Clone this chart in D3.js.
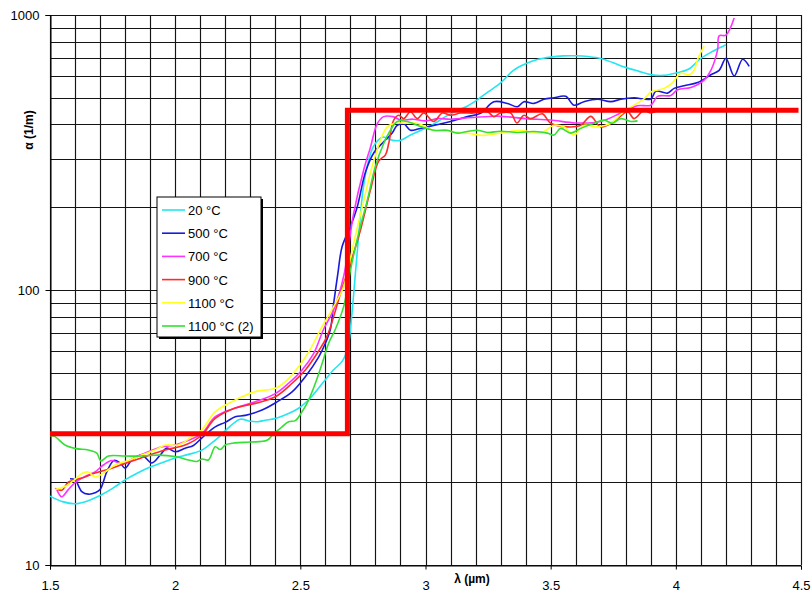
<!DOCTYPE html>
<html>
<head>
<meta charset="utf-8">
<script src="https://cdn.jsdelivr.net/npm/d3@7/dist/d3.min.js"></script>
<style>
  html, body { margin: 0; padding: 0; background: #fff; }
  svg { display: block; font-family: Arial, "Liberation Sans", sans-serif; }
</style>
</head>
<body>
<svg id="chart" width="812" height="598"></svg>
<script>
// Absorption coefficient α (1/m) versus wavelength λ (µm), by temperature
const seriesNames = ["20 °C", "500 °C", "700 °C", "900 °C", "1100 °C", "1100 °C (2)"];
const seriesColors = ["#22e6f0", "#1a1adc", "#ff33ff", "#ff2a2a", "#ffff22", "#33e033"];

const xTicks = [1.5, 2, 2.5, 3, 3.5, 4, 4.5];
const xTickLabels = ["1.5", "2", "2.5", "3", "3.5", "4", "4.5"];
const yTicks = [10, 100, 1000];
const yTickLabels = ["10", "100", "1000"];

// [λ, α] pairs for each series
const s20 = [[1.5,17.8],[1.55,17.0],[1.6,16.7],[1.65,17.1],[1.7,17.9],[1.75,19.0],[1.8,20.4],[1.85,21.6],[1.9,22.7],[1.95,23.6],[2.0,24.5],[2.05,25.2],[2.1,26.0],[2.14,27.5],[2.18,29.5],[2.22,32.0],[2.26,33.9],[2.3,33.3],[2.33,33.2],[2.36,33.6],[2.4,34.1],[2.45,35.5],[2.49,37.0],[2.54,40.5],[2.59,46],[2.63,51],[2.667,55],[2.69,62],[2.705,80],[2.72,115],[2.735,165],[2.75,230],[2.77,290],[2.79,330],[2.81,350],[2.83,360],[2.85,355],[2.87,350],[2.9,350],[2.94,366],[2.98,380],[3.03,400],[3.08,427],[3.13,450],[3.17,468],[3.21,494],[3.25,525],[3.3,566],[3.35,628],[3.4,665],[3.45,690],[3.5,703],[3.55,710],[3.6,711],[3.65,706],[3.7,695],[3.75,670],[3.8,645],[3.85,625],[3.9,607],[3.95,603],[4.0,615],[4.05,635],[4.1,695],[4.15,740],[4.2,780]];
const s500 = [[1.58,20.6],[1.6,20.4],[1.627,18.5],[1.653,18.1],[1.68,18.3],[1.7,18.8],[1.727,21.8],[1.755,24.0],[1.78,23.5],[1.8,22.5],[1.827,24.1],[1.867,25.1],[1.907,23.5],[1.94,25.1],[1.967,26.6],[2.0,25.8],[2.04,26.6],[2.073,27.2],[2.107,29],[2.16,31.8],[2.2,33],[2.24,34.6],[2.28,35],[2.347,36.6],[2.407,39.2],[2.467,42.6],[2.52,48.4],[2.573,57],[2.6,64],[2.62,72],[2.633,89],[2.65,115],[2.667,144],[2.7,170],[2.727,200],[2.76,268],[2.793,315],[2.833,346],[2.867,372],[2.887,397],[2.913,402],[2.94,381],[2.97,385],[3.007,392],[3.05,400],[3.1,410],[3.167,427],[3.22,439],[3.273,484],[3.327,477],[3.367,464],[3.393,484],[3.433,477],[3.473,494],[3.513,500],[3.56,506],[3.593,470],[3.633,484],[3.687,494],[3.74,484],[3.78,494],[3.833,500],[3.9,495],[3.92,528],[3.967,520],[3.993,541],[4.033,553],[4.087,568],[4.14,606],[4.173,629],[4.2,695],[4.233,600],[4.267,690],[4.293,650]];
const s700 = [[1.527,18.8],[1.547,17.7],[1.573,18.8],[1.603,20],[1.64,21],[1.68,21.8],[1.713,23.1],[1.747,24],[1.787,23.3],[1.84,24.6],[1.893,25.8],[1.947,26.9],[2.0,27.3],[2.053,28.4],[2.107,30.1],[2.16,34.6],[2.24,37.2],[2.32,39.2],[2.4,42],[2.453,45.8],[2.507,51.2],[2.553,58.7],[2.593,72],[2.633,84.7],[2.673,112],[2.713,190],[2.753,273],[2.78,330],[2.807,402],[2.833,427],[2.87,427],[2.9,415],[2.95,418],[3.0,412],[3.05,420],[3.1,418],[3.2,425],[3.3,428],[3.4,420],[3.5,415],[3.6,405],[3.7,410],[3.78,440],[3.847,468],[3.9,470],[3.927,506],[3.98,510],[4.007,535],[4.06,545],[4.113,580],[4.14,629],[4.167,748],[4.173,840],[4.2,845],[4.233,975]];
const s900 = [[1.52,19.0],[1.547,18.7],[1.573,20],[1.627,20.7],[1.68,21.6],[1.747,22.5],[1.8,23.4],[1.88,24.8],[1.96,26.2],[2.04,27.3],[2.107,29.7],[2.16,34.1],[2.24,37.2],[2.32,38.7],[2.4,40.9],[2.467,45.8],[2.52,51.2],[2.573,60],[2.607,68],[2.633,80],[2.66,97],[2.7,125],[2.74,165],[2.78,231],[2.813,294],[2.84,310],[2.853,341],[2.873,415],[2.893,432],[2.913,420],[2.94,445],[2.967,420],[2.993,440],[3.033,410],[3.067,440],[3.1,432],[3.14,440],[3.193,440],[3.247,445],[3.273,427],[3.3,440],[3.34,440],[3.365,405],[3.393,432],[3.42,420],[3.467,437],[3.5,404],[3.567,392],[3.62,397],[3.66,428],[3.7,392],[3.753,410],[3.807,445],[3.833,420],[3.873,450],[3.9,440],[3.927,450]];
const s1100 = [[1.52,18.8],[1.56,19.3],[1.6,20.5],[1.627,21.5],[1.653,21.8],[1.68,20.9],[1.72,21.8],[1.76,23.1],[1.813,24],[1.867,25.1],[1.92,26.2],[1.96,27.3],[2.013,27.3],[2.067,29.3],[2.107,31],[2.16,36.1],[2.24,39.8],[2.32,42.7],[2.4,43.9],[2.44,46.4],[2.493,52.6],[2.54,61],[2.58,71.6],[2.633,87],[2.673,103],[2.713,148],[2.753,211],[2.787,282],[2.82,350],[2.847,392],[2.88,404],[2.927,404],[2.967,404],[3.033,381],[3.1,377],[3.167,372],[3.233,365],[3.3,372],[3.38,381],[3.46,372],[3.513,397],[3.553,392],[3.593,366],[3.633,397],[3.687,392],[3.74,404],[3.78,435],[3.8,450],[3.833,470],[3.873,495],[3.9,525],[3.953,541],[3.987,568],[4.02,614],[4.053,606],[4.073,630],[4.087,690],[4.113,770]];
const s1100b = [[1.5,29.5],[1.52,29.3],[1.56,27.3],[1.603,26.5],[1.653,26.2],[1.687,25.5],[1.703,23.9],[1.733,24.9],[1.8,24.9],[1.867,24.9],[1.933,25.1],[2.0,24.8],[2.053,24.1],[2.087,23.8],[2.107,24.3],[2.133,24.1],[2.16,26.9],[2.18,26.3],[2.2,27.3],[2.24,27.8],[2.3,28],[2.367,28.4],[2.393,30],[2.427,31.8],[2.453,33.2],[2.48,33.5],[2.507,36.1],[2.533,39.8],[2.56,45.8],[2.587,54],[2.613,64],[2.64,72],[2.673,87],[2.7,118],[2.733,161],[2.767,211],[2.8,282],[2.833,341],[2.86,381],[2.887,410],[2.927,410],[2.967,397],[3.033,381],[3.087,381],[3.127,372],[3.167,377],[3.207,381],[3.247,374],[3.3,378],[3.367,374],[3.433,377],[3.487,372],[3.513,366],[3.54,387],[3.58,372],[3.62,387],[3.673,404],[3.713,415],[3.747,404],[3.78,420],[3.82,410],[3.847,412]];

const seriesData = [s20, s500, s700, s900, s1100, s1100b];

// Two-band step model: low plateau below the edge, high plateau above it
const stepModel = [[1.5,30],[2.688,30],[2.688,450],[4.49,450]];

const svg = d3.select("#chart");
const plotLeft = 50, plotRight = 801, plotTop = 15, plotBottom = 565;

const x = d3.scaleLinear().domain([1.5, 4.5]).range([plotLeft, plotRight]);
const y = d3.scaleLog().domain([10, 1000]).range([plotBottom, plotTop]);

// Grid: every 0.1 µm vertically, every log minor step horizontally
const xGrid = d3.range(15, 46).map(d => d / 10);
const yGrid = [];
[10, 100].forEach(dec => { for (let k = 1; k <= 9; k++) yGrid.push(dec * k); });
yGrid.push(1000);

const grid = svg.append("g").attr("stroke", "#141414").attr("stroke-width", 1.15);
grid.selectAll("line.v").data(xGrid).join("line")
  .attr("x1", d => Math.round(x(d)) + 0.5).attr("x2", d => Math.round(x(d)) + 0.5)
  .attr("y1", plotTop).attr("y2", plotBottom);
grid.selectAll("line.h").data(yGrid).join("line")
  .attr("y1", d => Math.round(y(d)) + 0.5).attr("y2", d => Math.round(y(d)) + 0.5)
  .attr("x1", plotLeft).attr("x2", plotRight);

// Axes
const yAxis = d3.axisLeft(y).tickValues(yTicks).tickFormat((d, i) => yTickLabels[i]).tickSize(5).tickPadding(6);
const gy = svg.append("g").attr("transform", `translate(${plotLeft + 0.5},0)`).call(yAxis);
const xAxis = d3.axisBottom(x).tickValues(xTicks).tickFormat((d, i) => xTickLabels[i]).tickSize(4).tickPadding(11);
const gx = svg.append("g").attr("transform", `translate(0,${plotBottom + 0.5})`).call(xAxis);
[gx, gy].forEach(g => {
  g.select(".domain").attr("stroke", "#000");
  g.selectAll(".tick line").attr("stroke", "#000");
  g.selectAll(".tick text").attr("fill", "#000").attr("font-size", 13)
    .attr("font-family", "Arial, 'Liberation Sans', sans-serif");
});

// Curves (smoothed through the sampled points)
const curveLine = d3.line().curve(d3.curveCatmullRom.alpha(0.5)).x(d => x(d[0])).y(d => y(d[1]));
svg.append("g").selectAll("path").data(seriesData).join("path")
  .attr("d", curveLine)
  .attr("fill", "none")
  .attr("stroke", (d, i) => seriesColors[i])
  .attr("stroke-width", 1.6)
  .attr("stroke-linejoin", "round");

// Step model on top
const stepLine = d3.line().x(d => x(d[0])).y(d => y(d[1]));
svg.append("path").datum(stepModel)
  .attr("d", stepLine)
  .attr("fill", "none")
  .attr("stroke", "#ff0000")
  .attr("stroke-width", 5);

// Axis titles
svg.append("text")
  .attr("transform", `translate(33,130) rotate(-90)`)
  .attr("text-anchor", "middle")
  .attr("font-size", 12).attr("font-weight", "bold")
  .text("α (1/m)");
svg.append("text")
  .attr("x", 472).attr("y", 583)
  .attr("text-anchor", "middle")
  .attr("font-size", 12).attr("font-weight", "bold")
  .text("λ (µm)");

// Legend
const lg = svg.append("g").attr("transform", "translate(157,197)");
lg.append("rect").attr("x", 2).attr("y", 2).attr("width", 104).attr("height", 140).attr("fill", "#000");
lg.append("rect").attr("x", 0).attr("y", 0).attr("width", 104).attr("height", 140)
  .attr("fill", "#fff").attr("stroke", "#000").attr("stroke-width", 1);
const items = lg.selectAll("g.item").data(seriesNames).join("g")
  .attr("transform", (d, i) => `translate(0,${13 + i * 23.2})`);
items.append("line").attr("x1", 5).attr("x2", 28).attr("y1", 0).attr("y2", 0)
  .attr("stroke", (d, i) => seriesColors[i]).attr("stroke-width", 1.6);
items.append("text").attr("x", 31).attr("y", 5).attr("font-size", 13).attr("fill", "#000").text(d => d);
</script>
</body>
</html>
